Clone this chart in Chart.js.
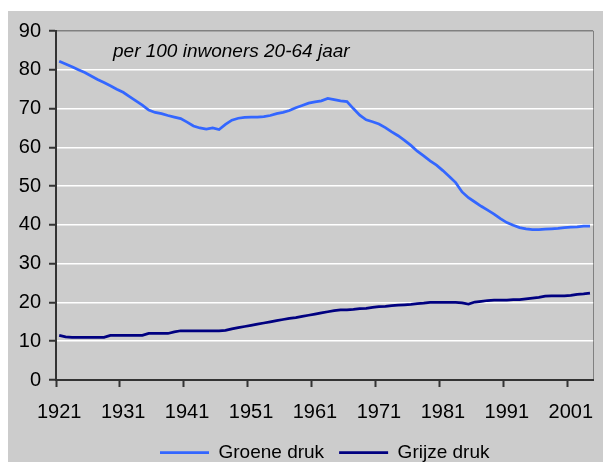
<!DOCTYPE html>
<html>
<head>
<meta charset="utf-8">
<script src="https://cdn.jsdelivr.net/npm/chart.js@4/dist/chart.umd.min.js"></script>
<style>
body { margin: 0; background: #fff; overflow: hidden; }
#wrap { position: absolute; left: 8px; top: 11px; width: 595px; height: 461px; background: #cccccc; }
</style>
</head>
<body>
<div id="wrap"><canvas id="myChart" width="595" height="461"></canvas></div>
<script>
var years = [
  '1921','1922','1923','1924','1925','1926','1927','1928','1929','1930',
  '1931','1932','1933','1934','1935','1936','1937','1938','1939','1940',
  '1941','1942','1943','1944','1945','1946','1947','1948','1949','1950',
  '1951','1952','1953','1954','1955','1956','1957','1958','1959','1960',
  '1961','1962','1963','1964','1965','1966','1967','1968','1969','1970',
  '1971','1972','1973','1974','1975','1976','1977','1978','1979','1980',
  '1981','1982','1983','1984','1985','1986','1987','1988','1989','1990',
  '1991','1992','1993','1994','1995','1996','1997','1998','1999','2000',
  '2001','2002','2003','2004'
];

// groene druk (0-19 jarigen per 100 van 20-64)
var groeneDruk = [
  82.2, 81.5, 80.8, 80.0, 79.3, 78.4, 77.5, 76.7, 75.9, 75.0,
  74.2, 73.1, 72.0, 70.9, 69.6, 69.0, 68.7, 68.2, 67.8, 67.4,
  66.5, 65.5, 65.0, 64.7, 65.0, 64.6, 65.9, 67.0, 67.5, 67.7,
  67.8, 67.8, 67.9, 68.2, 68.7, 69.0, 69.5, 70.2, 70.8, 71.4,
  71.7, 72.0, 72.6, 72.3, 72.0, 71.8, 70.0, 68.3, 67.1, 66.6,
  66.0, 65.1, 64.0, 63.0, 61.8, 60.5, 59.0, 57.8, 56.5, 55.4,
  54.0, 52.5, 50.9, 48.5, 47.0, 45.9, 44.8, 43.8, 42.8, 41.6,
  40.6, 39.9, 39.3, 39.0, 38.8, 38.8, 38.9, 39.0, 39.1, 39.3,
  39.4, 39.5, 39.7, 39.7
];

// grijze druk (65+ per 100 van 20-64)
var grijzeDruk = [
  11.5, 11.1, 11.0, 11.0, 11.0, 11.0, 11.0, 11.0, 11.5, 11.5,
  11.5, 11.5, 11.5, 11.5, 12.0, 12.0, 12.0, 12.0, 12.4, 12.7,
  12.7, 12.7, 12.7, 12.7, 12.7, 12.7, 12.8, 13.2, 13.5, 13.8,
  14.1, 14.4, 14.7, 15.0, 15.3, 15.6, 15.9, 16.1, 16.4, 16.7,
  17.0, 17.3, 17.6, 17.9, 18.1, 18.1, 18.2, 18.4, 18.5, 18.7,
  18.9, 19.0, 19.2, 19.3, 19.4, 19.5, 19.7, 19.8, 20.0, 20.0,
  20.0, 20.0, 20.0, 19.9, 19.6, 20.1, 20.3, 20.5, 20.6, 20.6,
  20.6, 20.7, 20.7, 20.9, 21.1, 21.3, 21.6, 21.7, 21.7, 21.7,
  21.8, 22.1, 22.2, 22.4
];

var noteText = 'per 100 inwoners 20-64 jaar';
var font = '"Liberation Sans", Arial, sans-serif';

var notePlugin = {
  id: 'note',
  afterDatasetsDraw: function(chart) {
    var ctx = chart.ctx, area = chart.chartArea;
    ctx.save();
    ctx.font = 'italic 19px ' + font;
    ctx.fillStyle = '#000';
    ctx.textBaseline = 'alphabetic';
    ctx.fillText(noteText, area.left + 57, area.top + 26);
    ctx.restore();
  }
};

// legend sits a bit right of the centre in the original
var legendShift = {
  id: 'legendShift',
  beforeDraw: function(chart) {
    var lg = chart.legend;
    lg.left = 152 - lg.options.labels.padding;
  }
};

var ctx = document.getElementById('myChart').getContext('2d');
var myChart = new Chart(ctx, {
  type: 'line',
  data: {
    labels: years,
    datasets: [{
      label: 'Groene druk',
      data: groeneDruk,
      borderColor: '#3366ff',
      backgroundColor: '#3366ff',
      borderWidth: 2.75,
      pointRadius: 0,
      tension: 0
    }, {
      label: 'Grijze druk',
      data: grijzeDruk,
      borderColor: '#000080',
      backgroundColor: '#000080',
      borderWidth: 2.75,
      pointRadius: 0,
      tension: 0
    }]
  },
  options: {
    responsive: false,
    animation: false,
    devicePixelRatio: 1,
    layout: { padding: { top: 16, right: 5, left: 0, bottom: 0 } },
    plugins: {
      tooltip: { enabled: false },
      legend: {
        position: 'bottom',
        align: 'start',
        labels: {
          boxWidth: 49,
          boxHeight: 0,
          padding: 15,
          color: '#000',
          font: { family: font, size: 19 }
        }
      }
    },
    scales: {
      x: {
        type: 'category',
        offset: true,
        afterFit: function(s) { s.height = 48; },
        grid: {
          offset: true,
          drawOnChartArea: true,
          tickLength: 7,
          lineWidth: 1,
          tickWidth: 2,
          color: function(c) { return c.tick ? 'transparent' : '#808080'; },
          tickColor: function(c) { return (c.tick && c.index % 10 === 0) ? '#333' : 'transparent'; }
        },
        border: { color: '#333', width: 2 },
        ticks: {
          autoSkip: false,
          maxRotation: 0,
          minRotation: 0,
          padding: 13,
          color: '#000',
          font: { family: font, size: 20 },
          callback: function(v, i) { return i % 10 === 0 ? years[i] : ''; }
        }
      },
      y: {
        min: 0,
        max: 90,
        afterFit: function(s) { s.width = 48; },
        grid: {
          tickLength: 7,
          lineWidth: 1.5,
          tickWidth: 2,
          color: function(c) {
            if (!c.tick) return 'transparent';
            if (c.tick.value === 90) return '#808080';
            if (c.tick.value === 0) return 'transparent';
            return '#ffffff';
          },
          tickColor: '#333'
        },
        border: { color: '#333', width: 2 },
        ticks: {
          stepSize: 10,
          padding: 8,
          color: '#000',
          font: { family: font, size: 20 }
        }
      }
    }
  },
  plugins: [notePlugin, legendShift]
});
</script>
</body>
</html>
